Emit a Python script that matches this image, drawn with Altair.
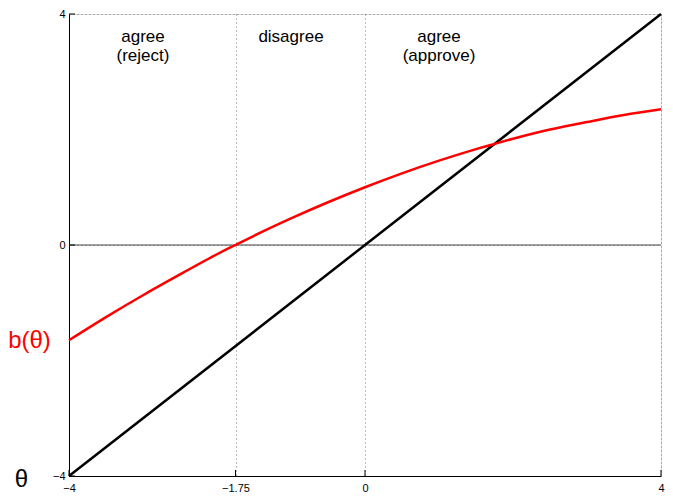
import altair as alt
import pandas as pd

# Red curve b(theta)
theta = [-4, -3.5, -3, -2.5, -2, -1.75, -1.5, -1, -0.5, 0, 0.5, 1, 1.5, 1.75, 2, 2.5, 3, 3.5, 4]
b_vals = [-1.65, -1.25, -0.87, -0.51, -0.16, 0.0, 0.16, 0.46, 0.74, 1.0, 1.24, 1.46, 1.66, 1.75, 1.84, 2.0, 2.13, 2.25, 2.35]

# Black identity line theta
id_theta = [-4, 4]
id_vals = [-4, 4]

x_ticks = [-4, -1.75, 0, 4]
y_ticks = [-4, 0, 4]

ann_theta = [-3, -3, -1, 1, 1]
ann_vals = [3.6, 3.27, 3.6, 3.6, 3.27]
ann_text = ["agree", "(reject)", "disagree", "agree", "(approve)"]

W, H = 592, 462

red_df = pd.DataFrame({"theta": theta, "val": b_vals})
blk_df = pd.DataFrame({"theta": id_theta, "val": id_vals})
zero_df = pd.DataFrame({"val": [0]})
xt_df = pd.DataFrame({"theta": x_ticks})
yt_df = pd.DataFrame({"val": y_ticks})
ann_df = pd.DataFrame({"theta": ann_theta, "val": ann_vals, "label": ann_text})

sx = alt.Scale(domain=[-4, 4], nice=False, zero=False)
sy = alt.Scale(domain=[-4, 4], nice=False, zero=False)

x_axis = alt.Axis(values=x_ticks, format=".2~f", grid=True, gridDash=[1, 3], gridColor="#777",
                  gridOpacity=1, domainColor="black", ticks=False, labelFontSize=11,
                  labelPadding=6, labelFlush=False, labelOverlap=False, labelColor="black",
                  title="θ", titleFontSize=24, titleFontWeight="normal", titleColor="black",
                  titleX=-48, titleY=3, titleAlign="center", titleBaseline="middle")
y_axis = alt.Axis(values=y_ticks, format=".2~f", grid=True, gridDash=[1, 3], gridColor="#777",
                  gridOpacity=1, domainColor="black", ticks=False, labelFontSize=11,
                  labelPadding=4, labelFlush=False, labelOverlap=False, labelColor="black",
                  title="b(θ)", titleFontSize=24, titleFontWeight="normal", titleColor="red",
                  titleAngle=0, titleX=-40, titleY=326, titleAlign="center", titleBaseline="middle")

X = alt.X("theta:Q", scale=sx, axis=x_axis)
Y = alt.Y("val:Q", scale=sy, axis=y_axis)

zero = alt.Chart(zero_df).mark_rule(color="#444", strokeWidth=1.2).encode(y=Y)
blk = alt.Chart(blk_df).mark_line(color="black", strokeWidth=2.5).encode(x=X, y=Y)
red = alt.Chart(red_df).mark_line(color="#ff0000", strokeWidth=2.5, interpolate="natural").encode(x=X, y=Y)
xt = alt.Chart(xt_df).mark_rule(color="black", strokeWidth=1).encode(
    x=X, y=alt.value(H), y2=alt.value(H - 6))
yt = alt.Chart(yt_df).mark_rule(color="black", strokeWidth=1).encode(
    y=Y, x=alt.value(0), x2=alt.value(6))
ann = alt.Chart(ann_df).mark_text(fontSize=17, color="black", align="center", baseline="middle").encode(
    x=X, y=Y, text="label:N")

chart = alt.layer(zero, blk, red, xt, yt, ann).properties(
    width=W, height=H,
    autosize=alt.AutoSizeParams(type="none"),
    padding={"left": 61, "top": 6, "right": 4, "bottom": 16},
).configure_view(stroke=None).configure(font="Liberation Sans")

chart.save("out.html", embed_options={"renderer": "svg", "actions": False})
